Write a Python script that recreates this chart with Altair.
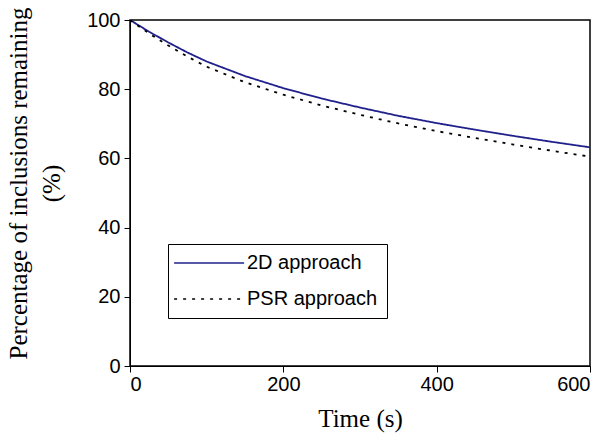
import altair as alt
import pandas as pd

time_s = [0, 25, 50, 75, 100, 150, 200, 250, 300, 350, 400, 450, 500, 550, 600]
pct_2d = [100, 96.6, 93.5, 90.6, 88.0, 83.8, 80.3, 77.3, 74.7, 72.3, 70.2, 68.3, 66.5, 64.8, 63.2]
pct_psr = [100, 96.1, 92.6, 89.4, 86.5, 82.0, 78.4, 75.3, 72.6, 70.1, 67.9, 65.9, 64.0, 62.2, 60.5]
series = ["2D approach", "PSR approach"]

rows = []
for t, a, b in zip(time_s, pct_2d, pct_psr):
    rows.append({"t": t, "v": a, "s": series[0]})
    rows.append({"t": t, "v": b, "s": series[1]})
df = pd.DataFrame(rows)

legend = alt.Legend(
    title=None, orient="none", legendX=38, legendY=224,
    strokeColor="black", padding=9, rowPadding=16,
    symbolType="M-0.7,0H9.3", symbolSize=196, symbolStrokeWidth=1.5,
    symbolOffset=-8, labelOffset=58,
    labelFont="Liberation Sans", labelFontSize=20, labelColor="black",
)

chart = alt.Chart(df).mark_line(strokeWidth=1.8, clip=True).encode(
    x=alt.X("t:Q", scale=alt.Scale(domain=[0, 600], nice=False),
            axis=alt.Axis(values=[0, 200, 400, 600], title="Time (s)", grid=False,
                          labelFont="Liberation Sans", labelFontSize=20, labelColor="black",
                          titleFont="Liberation Serif", titleFontSize=25, titleFontWeight="normal",
                          titleColor="black", titlePadding=12,
                          tickColor="black", domainColor="black", tickSize=6, labelPadding=2)),
    y=alt.Y("v:Q", scale=alt.Scale(domain=[0, 100], nice=False),
            axis=alt.Axis(values=[0, 20, 40, 60, 80, 100],
                          title=["Percentage of inclusions remaining", "(%)"], grid=False,
                          labelFont="Liberation Sans", labelFontSize=20, labelColor="black",
                          titleFont="Liberation Serif", titleFontSize=25, titleFontWeight="normal",
                          titleColor="black", titlePadding=22, titleLineHeight=33, titleY=163,
                          tickColor="black", domainColor="black", tickSize=6, labelPadding=4)),
    color=alt.Color("s:N", scale=alt.Scale(domain=series, range=["#20208c", "black"]), legend=legend),
    strokeDash=alt.StrokeDash("s:N", scale=alt.Scale(domain=series, range=[[1, 0], [3, 6]]), legend=legend),
).properties(
    width=460, height=346,
    autosize=alt.AutoSizeParams(type="none"),
    padding={"left": 130, "top": 20, "right": 19, "bottom": 69},
).configure_view(stroke="black", strokeWidth=1.5)

chart.save("out.html", embed_options={"renderer": "svg", "actions": False})
